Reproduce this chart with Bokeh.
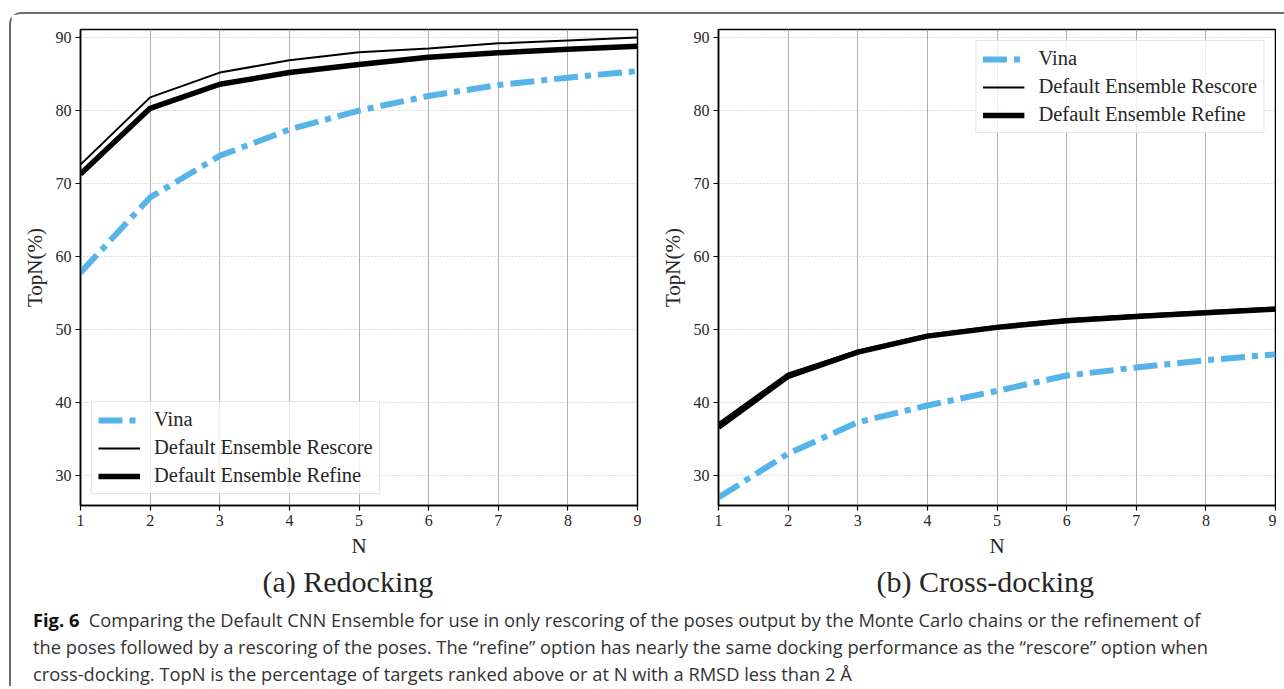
from bokeh.plotting import figure
from bokeh.models import Legend, LegendItem, Title, Div, Range1d, FixedTicker
from bokeh.layouts import row, column
from bokeh.embed import file_html
from bokeh.resources import INLINE

# ---- data ----
N = [1, 2, 3, 4, 5, 6, 7, 8, 9]
y_ticks = [30, 40, 50, 60, 70, 80, 90]

vina_redock = [57.8, 68.1, 73.8, 77.4, 80.0, 82.0, 83.5, 84.5, 85.4]
rescore_redock = [72.6, 81.8, 85.2, 86.9, 88.0, 88.5, 89.2, 89.6, 90.0]
refine_redock = [71.3, 80.3, 83.6, 85.2, 86.3, 87.3, 87.9, 88.4, 88.8]

vina_cross = [27.0, 33.0, 37.3, 39.6, 41.6, 43.7, 44.8, 45.8, 46.6]
rescore_cross = [37.2, 44.0, 47.1, 49.3, 50.5, 51.4, 52.0, 52.5, 53.0]
refine_cross = [36.6, 43.6, 46.9, 49.1, 50.3, 51.2, 51.8, 52.3, 52.8]

series_labels = ["Vina", "Default Ensemble Rescore", "Default Ensemble Refine"]
subcaptions = ["(a) Redocking", "(b) Cross-docking"]

SERIF = "Liberation Serif"
TXT = "#262626"


def make_plot(vina, rescore, refine, sub, sub_offset, legend_loc, min_left, min_right, width):
    p = figure(width=width, height=585,
               x_range=Range1d(1, 9), y_range=Range1d(25.9, 91.1),
               output_backend="svg", toolbar_location=None,
               min_border_left=min_left, min_border_right=min_right,
               min_border_top=15, min_border_bottom=89,
               background_fill_color="white", border_fill_color="white")
    p.outline_line_color = "black"
    p.outline_line_width = 1.5
    p.outline_line_alpha = 1.0

    p.xaxis.ticker = FixedTicker(ticks=N)
    p.yaxis.ticker = FixedTicker(ticks=y_ticks)
    for ax in (p.xaxis[0], p.yaxis[0]):
        ax.axis_line_color = "black"
        ax.axis_line_width = 1.5
        ax.major_tick_line_color = "black"
        ax.major_tick_line_width = 1.2
        ax.major_tick_out = 5
        ax.major_tick_in = 0
        ax.minor_tick_line_color = None
        ax.major_label_text_font = SERIF
        ax.major_label_text_font_size = "16px"
        ax.major_label_text_color = TXT
        ax.axis_label_text_font = SERIF
        ax.axis_label_text_font_size = "21px"
        ax.axis_label_text_font_style = "normal"
        ax.axis_label_text_color = TXT
    p.xaxis.axis_label = "N"
    p.yaxis.axis_label = "TopN(%)"
    p.xaxis.major_label_standoff = 4
    p.xaxis.axis_label_standoff = 5
    p.yaxis.major_label_standoff = 4
    p.yaxis.axis_label_standoff = 6

    p.xgrid.grid_line_color = "#b0b0b0"
    p.xgrid.grid_line_width = 1
    p.ygrid.grid_line_color = "#bdbdbd"
    p.ygrid.grid_line_width = 1
    p.ygrid.grid_line_dash = "1 2"

    r1 = p.line(N, vina, line_color="#56B4E9", line_width=6, line_dash="24 7 6 7")
    r2 = p.line(N, rescore, line_color="black", line_width=2)
    r3 = p.line(N, refine, line_color="black", line_width=5.5)

    legend = Legend(items=[LegendItem(label=series_labels[0], renderers=[r1]),
                           LegendItem(label=series_labels[1], renderers=[r2]),
                           LegendItem(label=series_labels[2], renderers=[r3])],
                    location=legend_loc)
    legend.label_text_font = SERIF
    legend.label_text_font_size = "20.5px"
    legend.label_text_color = TXT
    legend.glyph_width = 42
    legend.glyph_height = 20
    legend.label_height = 20
    legend.label_standoff = 14
    legend.spacing = 5
    legend.padding = 6
    legend.margin = 11
    legend.border_line_color = "#cccccc"
    legend.border_line_width = 1.2
    legend.background_fill_alpha = 0.8
    p.add_layout(legend)

    t = Title(text=sub, align="left", text_font=SERIF, text_font_size="30px",
              text_font_style="normal", text_color=TXT, standoff=4, offset=sub_offset)
    p.add_layout(t, "below")
    return p


p1 = make_plot(vina_redock, rescore_redock, refine_redock, subcaptions[0], 182,
               "bottom_left", 69, 10, 636)
p2 = make_plot(vina_cross, rescore_cross, refine_cross, subcaptions[1], 158,
               "top_right", 71, 1, 629)

caption = Div(
    text=('<b style="color:#111">Fig.&nbsp;6</b>&nbsp; Comparing the Default CNN Ensemble for use in only rescoring '
          'of the poses output by the Monte Carlo chains or the refinement of<br>'
          'the poses followed by a rescoring of the poses. The \u201crefine\u201d option has nearly the same docking '
          'performance as the \u201crescore\u201d option when<br>'
          'cross-docking. TopN is the percentage of targets ranked above or at N with a RMSD less than 2 \u00c5'),
    width=1265, height=77,
    styles={"font-family": "'Liberation Sans Narrow', 'Open Sans', sans-serif",
            "font-size": "18.3px", "line-height": "27px", "color": "#333333",
            "padding-left": "17px", "padding-top": "2px", "white-space": "nowrap",
            "box-sizing": "border-box"})

layout = column(row(p1, p2), caption,
                styles={"border-left": "2px solid #6e6e6e", "border-top": "2px solid #6e6e6e",
                        "border-top-left-radius": "12px", "margin-left": "9px",
                        "margin-top": "12px"})

open("out.html", "w").write(file_html(layout, INLINE))
